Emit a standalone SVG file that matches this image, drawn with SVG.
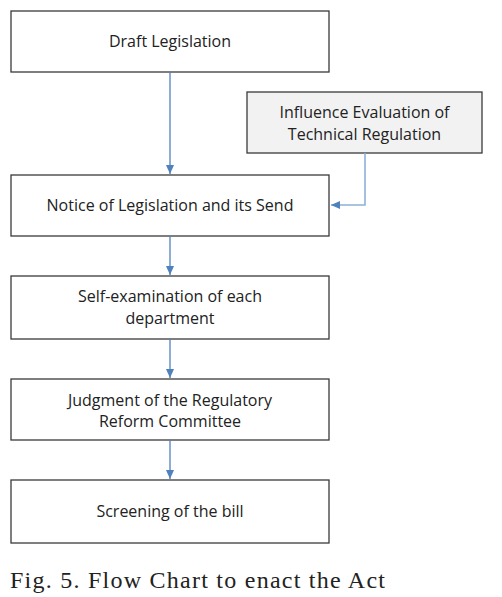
<svg xmlns="http://www.w3.org/2000/svg" width="502" height="597" viewBox="0 0 502 597">
<style>
.box{fill:#ffffff;stroke:#3a3a3a;stroke-width:1.3}
.gbox{fill:#f2f2f2;stroke:#3a3a3a;stroke-width:1.3}
.t{font-family:"Open Sans","Noto Sans","DejaVu Sans",sans-serif;font-size:16px;fill:#222;text-anchor:middle}
.c{fill:none;stroke:#4f81bd;stroke-width:1.3}
.c2{fill:none;stroke:#8db0da;stroke-width:1.6}
.cap{font-family:"Liberation Serif","Times New Roman",serif;font-size:24px;fill:#222}
</style>
<defs>
<marker id="ah" markerWidth="10" markerHeight="8" refX="9" refY="4" orient="auto" markerUnits="userSpaceOnUse">
<path d="M0,0 L9,4 L0,8 Z" fill="#4f81bd"/>
</marker>
</defs>
<g id="n1"><rect class="box" x="11" y="11" width="318" height="61"/><text class="t" x="170" y="47">Draft Legislation</text></g>
<g id="n_infl"><rect class="gbox" x="247" y="92" width="235" height="61"/><text class="t" x="364.5" y="118">Influence Evaluation of</text><text class="t" x="364.5" y="140">Technical Regulation</text></g>
<g id="n2"><rect class="box" x="11" y="175" width="318" height="61"/><text class="t" x="170" y="211">Notice of Legislation and its Send</text></g>
<g id="n3"><rect class="box" x="11" y="276" width="318" height="63"/><text class="t" x="170" y="302">Self-examination of each</text><text class="t" x="170" y="324">department</text></g>
<g id="n4"><rect class="box" x="11" y="379" width="318" height="61"/><text class="t" x="170" y="406">Judgment of the Regulatory</text><text class="t" x="170" y="427">Reform Committee</text></g>
<g id="n5"><rect class="box" x="11" y="480" width="318" height="63"/><text class="t" x="170" y="517">Screening of the bill</text></g>
<g id="connectors">
<line class="c" x1="170" y1="72" x2="170" y2="174" marker-end="url(#ah)"/>
<polyline class="c2" points="365,153 365,205 331,205" marker-end="url(#ah)"/>
<line class="c" x1="170" y1="236" x2="170" y2="275" marker-end="url(#ah)"/>
<line class="c" x1="170" y1="339" x2="170" y2="378" marker-end="url(#ah)"/>
<line class="c" x1="170" y1="440" x2="170" y2="479" marker-end="url(#ah)"/>
</g>
<text class="cap" x="10" y="588" textLength="375" lengthAdjust="spacing">Fig. 5. Flow Chart to enact the Act</text>
</svg>
